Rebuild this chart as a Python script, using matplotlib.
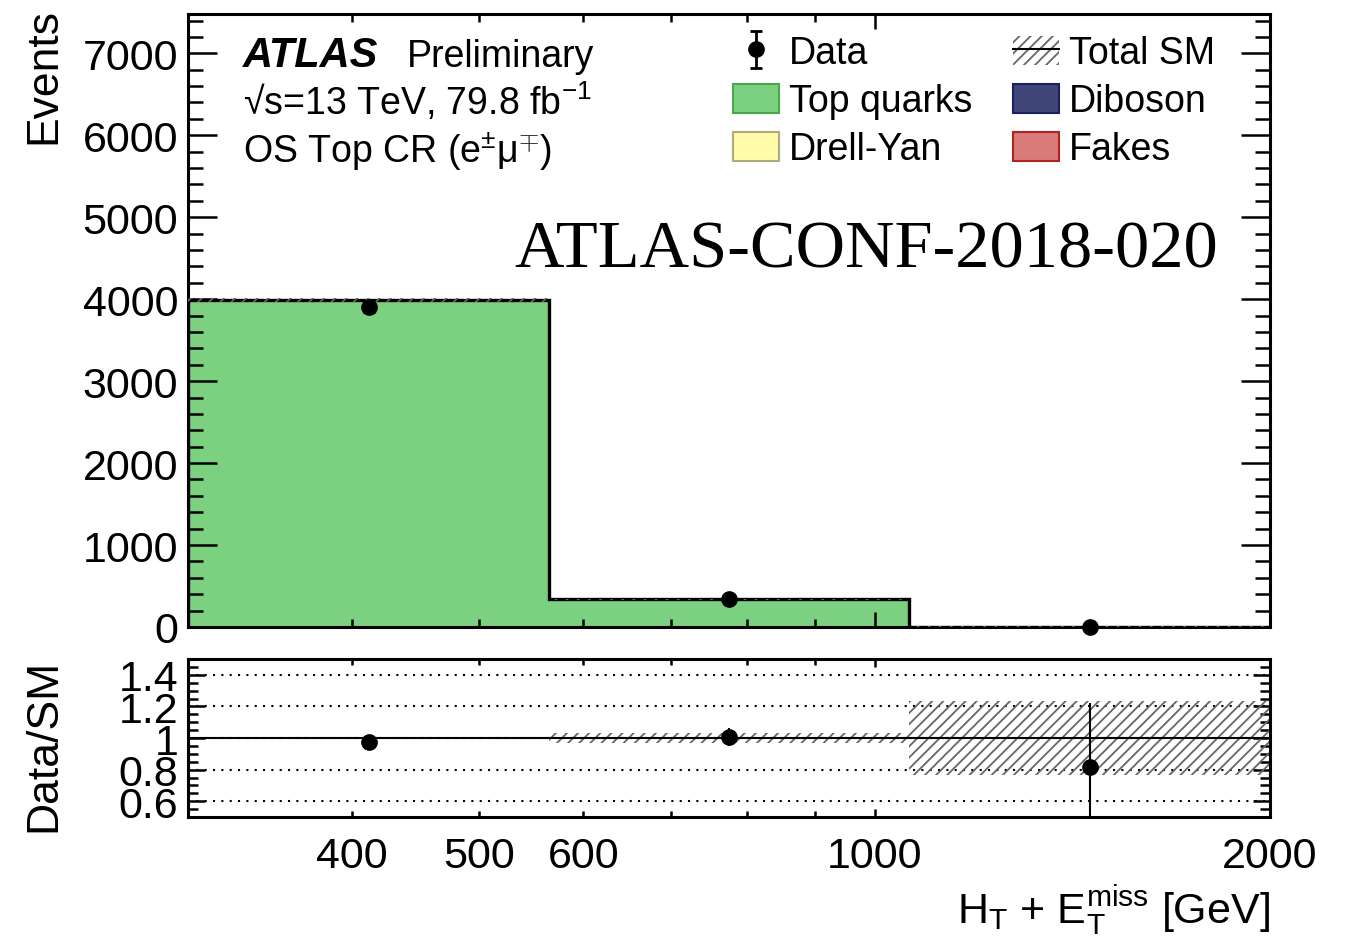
import numpy as np
import matplotlib
matplotlib.use("Agg")
import matplotlib.pyplot as plt
from matplotlib.patches import Patch
from matplotlib.lines import Line2D
from matplotlib.ticker import FixedLocator, FuncFormatter, MultipleLocator

plt.rcParams['font.family'] = ['Liberation Sans', 'DejaVu Sans']
plt.rcParams['mathtext.fontset'] = 'custom'
plt.rcParams['mathtext.rm'] = 'Liberation Sans'
plt.rcParams['mathtext.it'] = 'Liberation Sans:italic'
plt.rcParams['hatch.linewidth'] = 1.3

# HT + MET binning [GeV]
edges = np.array([300., 565., 1062., 2000.])

# background predictions per bin
top_quarks = np.array([3975., 333., 4.3])
drell_yan = np.array([5., 1., 0.2])
diboson = np.array([6., 1.5, 0.3])
fakes = np.array([4., 0.5, 0.1])
sm_rel_unc = np.array([0.006, 0.03, 0.235])

# observed events
data = np.array([3900., 338., 4.])

samples = [
    ("Top quarks", top_quarks, "#7bd17f", "#4ca64c"),
    ("Drell-Yan", drell_yan, "#fffcaa", "#b0aa80"),
    ("Diboson", diboson, "#3f4577", "#1a2060"),
    ("Fakes", fakes, "#d97b78", "#b22222"),
]

total = top_quarks + drell_yan + diboson + fakes
centers = np.sqrt(edges[:-1] * edges[1:])
widths = np.diff(edges)
ratio = data / total
ratio_err = np.sqrt(data) / total

fig = plt.figure(figsize=(13.48, 9.37), dpi=100)
ax = fig.add_axes([0.1395, 0.3298, 0.8027, 0.6542])
rax = fig.add_axes([0.1395, 0.1270, 0.8027, 0.1686], sharex=ax)

# stacked backgrounds
bottom = np.zeros(3)
handles = {}
for name, vals, fc, ec in samples:
    ax.stairs(bottom + vals, edges, baseline=bottom, fill=True,
              facecolor=fc, edgecolor=fc, zorder=1)
    handles[name] = Patch(facecolor=fc, edgecolor=ec, linewidth=1.5)
    bottom = bottom + vals
ax.stairs(total, edges, baseline=0, color='k', linewidth=2.4, zorder=2)

# SM uncertainty band
hcol = '#666666'
ax.bar(edges[:-1], 2 * total * sm_rel_unc, bottom=total * (1 - sm_rel_unc),
       width=widths, align='edge', facecolor='none', edgecolor=hcol,
       hatch='///', linewidth=0, zorder=3)

dat = ax.errorbar(centers, data, yerr=np.sqrt(data), fmt='o', color='k',
                  markersize=11, elinewidth=2, capsize=4, capthick=2,
                  zorder=5, clip_on=False)

ax.set_xscale('log')
ax.set_xlim(300, 2000)
ax.set_ylim(0, 7480)
ax.yaxis.set_major_locator(MultipleLocator(1000))
ax.yaxis.set_minor_locator(MultipleLocator(200))
ax.tick_params(which='both', direction='in', top=True, right=True, width=1.8,
               labelbottom=False, labelsize=31, pad=7)
ax.tick_params(axis='y', which='major', length=21)
ax.tick_params(axis='y', which='minor', length=11)
ax.tick_params(axis='x', which='major', length=11)
ax.tick_params(axis='x', which='minor', length=6)
for s in ax.spines.values():
    s.set_linewidth(2.2)
ax.set_ylabel('Events', fontsize=32, loc='top')
ax.yaxis.set_label_coords(-0.114, 1.012)

# labels
ax.text(0.0508, 0.915, 'ATLAS', transform=ax.transAxes, fontsize=30,
        fontweight='bold', fontstyle='italic')
ax.text(0.2024, 0.915, 'Preliminary', transform=ax.transAxes, fontsize=27)
ax.text(0.0508, 0.837, '\u221as=13 TeV, 79.8 fb$^{\\mathrm{-}1}$',
        transform=ax.transAxes, fontsize=27)
ax.text(0.0508, 0.7586, 'OS Top CR (e$^{\\pm}$\u03bc$^{\\mp}$)',
        transform=ax.transAxes, fontsize=27)
ax.text(0.952, 0.5873, 'ATLAS-CONF-2018-020', transform=ax.transAxes,
        ha='right', va='baseline', fontsize=49.3,
        family=['Liberation Serif', 'DejaVu Serif'])

sm_handle = (Patch(facecolor='none', edgecolor=hcol, hatch='///', linewidth=0),
             Line2D([], [], color='k', linewidth=1.5))
leg_handles = [dat, handles['Top quarks'], handles['Drell-Yan'],
               sm_handle, handles['Diboson'], handles['Fakes']]
leg_labels = ['Data', 'Top quarks', 'Drell-Yan', 'Total SM', 'Diboson', 'Fakes']
ax.legend(leg_handles, leg_labels, ncol=2, loc='upper left',
          bbox_to_anchor=(0.5037, 0.965), frameon=False, fontsize=27,
          borderpad=0, borderaxespad=0, handlelength=1.23, handleheight=0.85,
          handletextpad=0.27, columnspacing=1.07, labelspacing=0.32)

# ratio panel
rax.bar(edges[:-1], 2 * sm_rel_unc, bottom=1 - sm_rel_unc, width=widths,
        align='edge', facecolor='none', edgecolor=hcol, hatch='///',
        linewidth=0, zorder=2)
for yv in [0.6, 0.8, 1.0, 1.2, 1.4]:
    rax.axhline(yv, color='k', linestyle=(0, (1, 3)), linewidth=1.5, zorder=1)
rax.axhline(1.0, color='k', linewidth=1.5, zorder=3)
rax.errorbar(centers, ratio, yerr=ratio_err, fmt='o', color='k',
             markersize=11, elinewidth=1.5, capsize=0, zorder=5)
rax.set_ylim(0.5, 1.5)
rax.yaxis.set_major_locator(FixedLocator([0.6, 0.8, 1.0, 1.2, 1.4]))
rax.yaxis.set_major_formatter(FuncFormatter(lambda v, p: '%g' % v))
rax.yaxis.set_minor_locator(MultipleLocator(0.05))

xlabels = {400, 500, 600, 1000, 2000}
rax.xaxis.set_major_locator(FixedLocator([1000]))
rax.xaxis.set_minor_locator(FixedLocator([300, 400, 500, 600, 700, 800, 900, 2000]))
fmt = FuncFormatter(lambda v, p: '%d' % round(v) if round(v) in xlabels else '')
rax.xaxis.set_major_formatter(fmt)
rax.xaxis.set_minor_formatter(fmt)
rax.tick_params(which='both', direction='in', top=True, right=True, width=1.8,
                labelsize=31)
rax.tick_params(axis='x', which='both', pad=14)
rax.tick_params(axis='y', which='both', pad=7)
rax.tick_params(axis='y', which='major', length=12)
rax.tick_params(axis='y', which='minor', length=7)
rax.tick_params(axis='x', which='major', length=6)
rax.tick_params(axis='x', which='minor', length=4)
ax.tick_params(labelbottom=False, which='both')
for s in rax.spines.values():
    s.set_linewidth(2.2)
rax.set_ylabel('Data/SM', fontsize=32)
rax.yaxis.set_label_coords(-0.114, 0.46)
rax.set_xlabel('H$_{\\rm T}$ + E$_{\\rm T}^{\\rm miss}$ [GeV]', fontsize=31,
               loc='right')

fig.savefig('out.png', dpi=100)
